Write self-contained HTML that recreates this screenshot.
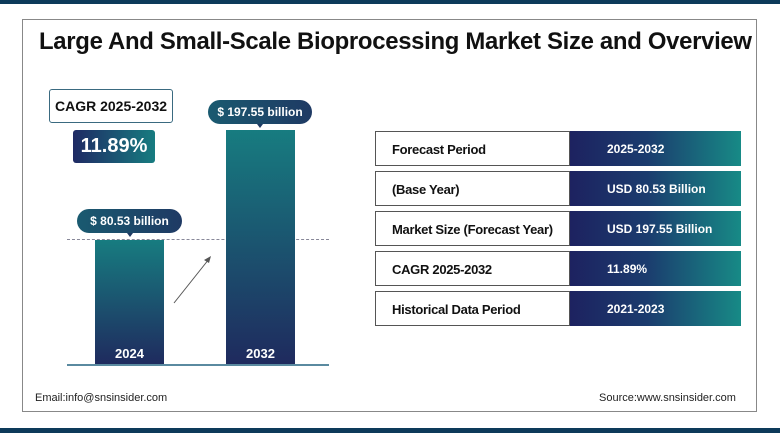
<!DOCTYPE html>
<html><head><style>
body{margin:0;width:780px;height:433px;background:#fff;position:relative;overflow:hidden;font-family:"Liberation Sans",Arial,sans-serif}
.a{position:absolute}
.frame{left:22px;top:19px;width:735px;height:393px;border:1px solid #888;box-sizing:border-box}
h1{position:absolute;left:39px;top:28px;margin:0;font-size:23.9px;font-weight:bold;color:#111;letter-spacing:-0.3px;white-space:nowrap}
.bar{background:linear-gradient(#177c80,#1f2a5e);}
.pill{background:linear-gradient(90deg,#1a5a70,#1f3a64);color:#fff;font-weight:bold;font-size:12px;border-radius:12px;text-align:center;line-height:24px}
.pill:after{content:"";position:absolute;left:50%;bottom:-4px;margin-left:-3px;border:3px solid transparent;border-top:4px solid #1f3a64;border-bottom:0}
.yr{color:#fff;font-weight:bold;font-size:13px;text-align:center;width:69px}
.row{left:375px;width:366px;height:35px}
.l{position:absolute;left:0;top:0;width:195px;height:35px;border:1px solid #555;box-sizing:border-box;background:#fff;font-weight:bold;font-size:13px;line-height:35px;padding-left:16px;color:#111;letter-spacing:-0.3px}
.r{position:absolute;left:195px;top:0;width:171px;height:35px;background:linear-gradient(90deg,#1d2260,#1b3c6e 45%,#178a86);color:#fff;font-weight:bold;font-size:12px;line-height:37px;padding-left:37px;box-sizing:border-box}
</style></head><body>
<div class="a" style="left:0;top:0;width:780px;height:4px;background:#0d3a5a"></div>
<div class="a" style="left:0;top:428px;width:780px;height:5px;background:#0d3a5a"></div>
<div class="a frame"></div>
<h1>Large And Small-Scale Bioprocessing Market Size and Overview</h1>
<div class="a" style="left:49px;top:89px;width:124px;height:34px;border:1px solid #3a6a80;border-radius:3px;box-sizing:border-box;font-weight:bold;font-size:14px;line-height:32px;text-align:center;color:#111">CAGR 2025-2032</div>
<div class="a" style="left:73px;top:130px;width:82px;height:33px;border-radius:3px;background:linear-gradient(90deg,#1f2a64,#177c80);color:#fff;font-size:20px;font-weight:bold;line-height:33px;text-align:center">11.89%</div>
<div class="a" style="left:67px;top:239px;width:262px;border-top:1.5px dashed #889"></div>
<div class="a bar" style="left:95px;top:240px;width:69px;height:125px"></div>
<div class="a bar" style="left:226px;top:130px;width:69px;height:235px"></div>
<div class="a" style="left:67px;top:364px;width:262px;height:2px;background:#5a8aa0"></div>
<div class="a yr" style="left:95px;top:346px">2024</div>
<div class="a yr" style="left:226px;top:346px">2032</div>
<div class="a pill" style="left:77px;top:209px;width:105px">$ 80.53 billion</div>
<div class="a pill" style="left:208px;top:100px;width:104px">$ 197.55 billion</div>
<svg class="a" style="left:0;top:0" width="780" height="433"><line x1="174" y1="303" x2="209" y2="259" stroke="#555" stroke-width="1"/><polygon points="211,256 204,260 209,263" fill="#555"/></svg>
<div class="a row" style="top:131px"><div class="l">Forecast Period</div><div class="r">2025-2032</div></div>
<div class="a row" style="top:171px"><div class="l">(Base Year)</div><div class="r">USD 80.53 Billion</div></div>
<div class="a row" style="top:211px"><div class="l">Market Size (Forecast Year)</div><div class="r">USD 197.55 Billion</div></div>
<div class="a row" style="top:251px"><div class="l">CAGR 2025-2032</div><div class="r">11.89%</div></div>
<div class="a row" style="top:291px"><div class="l">Historical Data Period</div><div class="r">2021-2023</div></div>
<div class="a" style="left:35px;top:392px;font-size:11px;color:#222">Email:info@snsinsider.com</div>
<div class="a" style="left:599px;top:392px;font-size:11px;color:#222">Source:www.snsinsider.com</div>
</body></html>
